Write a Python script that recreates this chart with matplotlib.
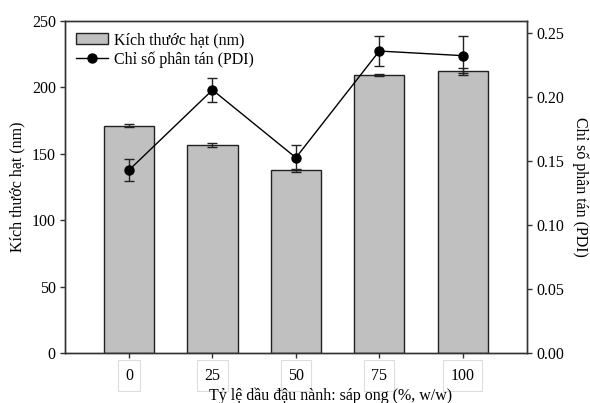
import matplotlib
matplotlib.use('Agg')
import matplotlib.pyplot as plt
from matplotlib.lines import Line2D
import numpy as np

plt.rcParams['font.family'] = ['Liberation Serif', 'DejaVu Serif']
plt.rcParams['font.size'] = 11.5

ratios = ['0', '25', '50', '75', '100']
size_nm = [171.2, 156.6, 137.6, 209.3, 212.5]
size_err = [1.0, 1.5, 1.0, 0.7, 2.0]
pdi = [0.143, 0.2055, 0.1526, 0.2359, 0.2323]
pdi_err = [0.0085, 0.0096, 0.0100, 0.0117, 0.0150]

x = np.arange(len(ratios))

fig = plt.figure(figsize=(5.9, 4.03), dpi=100)
ax = fig.add_axes([0.110, 0.124, 0.783, 0.824])
ax2 = ax.twinx()

bars = ax.bar(x, size_nm, width=0.6, color='#c0c0c0', edgecolor='#222222', linewidth=1,
              yerr=size_err, error_kw=dict(ecolor='#222222', elinewidth=1, capsize=3.8, capthick=1),
              zorder=2)
ax2.errorbar(x, pdi, yerr=pdi_err, color='black', linewidth=1, marker='o', markersize=6.5,
             ecolor='#222222', elinewidth=1, capsize=3.3, capthick=1, zorder=3)
line_handle = Line2D([], [], color='black', linewidth=1, marker='o', markersize=6.5)

ax.set_xlim(-0.77, 4.77)
ax.set_ylim(0, 250)
ax2.set_ylim(0, 0.2594)
ax.set_yticks([0, 50, 100, 150, 200, 250])
ax2.set_yticks([0, 0.05, 0.10, 0.15, 0.20, 0.25])
ax2.set_yticklabels(['0.00', '0.05', '0.10', '0.15', '0.20', '0.25'])
ax.set_xticks(x)
ax.set_xticklabels(ratios)
for lab in ax.get_xticklabels():
    lab.set_bbox(dict(boxstyle='square,pad=0.45', fc='white', ec='#dddddd', lw=0.8))

for a in (ax, ax2):
    for s in a.spines.values():
        s.set_color('#333333')
        s.set_linewidth(1)
ax.tick_params(axis='both', direction='out', length=3.5, width=1, color='#333333', pad=3)
ax.tick_params(axis='x', pad=7)
ax2.tick_params(axis='y', direction='out', length=3.5, width=1, color='#333333', pad=3)

ax.set_ylabel('Kích thước hạt (nm)', labelpad=5)
ax2.set_ylabel('Chỉ số phân tán (PDI)', rotation=270, labelpad=18)
ax.set_xlabel('Tỷ lệ dầu đậu nành: sáp ong (%, w/w)')
ax.xaxis.set_label_coords(0.576, -0.105)

ax.legend([bars, line_handle], ['Kích thước hạt (nm)', 'Chỉ số phân tán (PDI)'], loc='upper left',
          frameon=False, bbox_to_anchor=(0.0, 1.0), borderaxespad=0.3, handlelength=2.0,
          handletextpad=0.4, labelspacing=0.2)

fig.savefig('out.png', dpi=100)
